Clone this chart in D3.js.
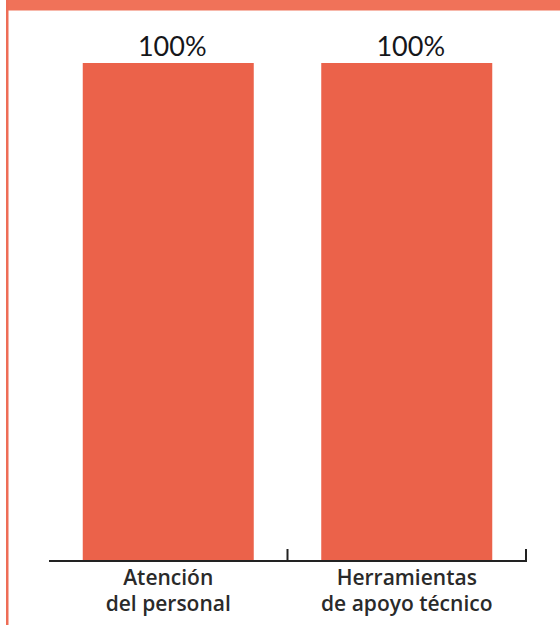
<!DOCTYPE html>
<html>
<head>
<meta charset="utf-8">
<script src="https://cdn.jsdelivr.net/npm/d3@7"></script>
<style>
  html, body { margin: 0; padding: 0; background: #ffffff; }
  svg { display: block; }
</style>
</head>
<body>
<svg id="chart" width="560" height="625"></svg>
<script>
// Chart data
const categories = ["Atención\ndel personal", "Herramientas\nde apoyo técnico"];
const values = [100, 100];
const valueLabels = ["100%", "100%"];

const W = 560, H = 625;
const svg = d3.select("#chart");

// Frame: orange header band and left rule
svg.append("rect").attr("x", 6).attr("y", 0).attr("width", W - 6).attr("height", 10.5).attr("fill", "#F07259");
svg.append("rect").attr("x", 6).attr("y", 0).attr("width", 2.5).attr("height", H).attr("fill", "#EE6D56");

const x = d3.scaleBand().domain(categories).range([49, 526]).padding(0);
const y = d3.scaleLinear().domain([0, 100]).range([561, 63]);
const barFrac = 0.717;

// Bars
svg.append("g").selectAll("rect").data(categories).join("rect")
  .attr("x", d => x(d) + x.bandwidth() * (1 - barFrac) / 2)
  .attr("width", x.bandwidth() * barFrac)
  .attr("y", (d, i) => y(values[i]))
  .attr("height", (d, i) => y(0) - y(values[i]))
  .attr("fill", "#EB624A");

// Value labels
svg.append("g").selectAll("text").data(categories).join("text")
  .attr("x", d => x(d) + x.bandwidth() / 2)
  .attr("dx", 4)
  .attr("y", (d, i) => y(values[i]) - 7)
  .attr("text-anchor", "middle")
  .attr("font-family", "Lato, 'Open Sans', sans-serif")
  .attr("font-size", 27)
  .attr("fill", "#15161a")
  .text((d, i) => valueLabels[i]);

// Baseline axis with upward ticks at band edges
const axisG = svg.append("g");
axisG.append("line")
  .attr("x1", 49).attr("x2", 527)
  .attr("y1", y(0)).attr("y2", y(0))
  .attr("stroke", "#222").attr("stroke-width", 2);
axisG.selectAll("line.tick").data(categories).join("line")
  .attr("class", "tick")
  .attr("x1", d => x(d) + x.bandwidth()).attr("x2", d => x(d) + x.bandwidth())
  .attr("y1", y(0) + 1).attr("y2", y(0) - 12)
  .attr("stroke", "#222").attr("stroke-width", 2);

// Category labels, one text element per line
const lines = categories.flatMap(d => d.split("\n").map((line, j) => ({ cat: d, line, j })));
axisG.selectAll("text.cat").data(lines).join("text")
  .attr("class", "cat")
  .attr("x", d => x(d.cat) + x.bandwidth() / 2)
  .attr("y", d => 585 + d.j * 26)
  .attr("text-anchor", "middle")
  .attr("font-family", "'Open Sans', sans-serif")
  .attr("font-weight", 600)
  .attr("font-size", 21)
  .attr("fill", "#2a2a2a")
  .text(d => d.line);
</script>
</body>
</html>
